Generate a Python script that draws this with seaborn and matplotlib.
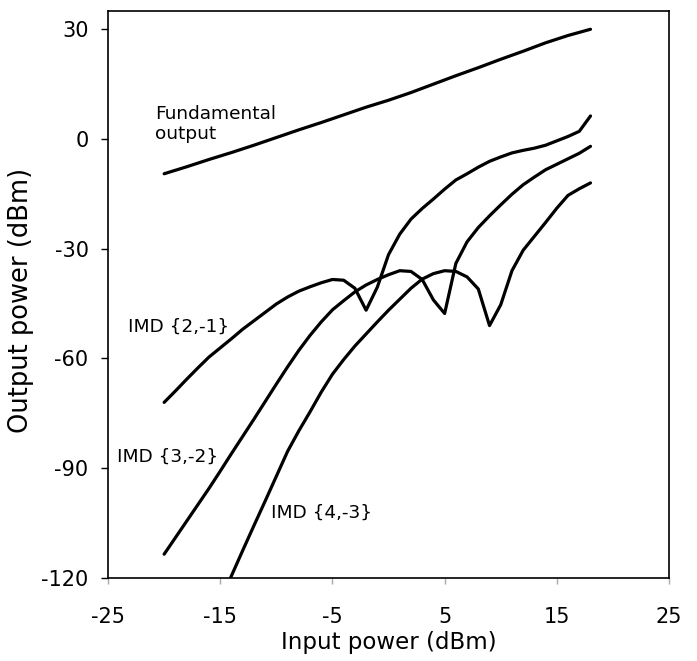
import pandas as pd
import matplotlib
matplotlib.use("Agg")
import matplotlib.pyplot as plt
import seaborn as sns

# Values (input power in dBm -> output power in dBm)
fund_x = [-20, -18, -16, -14, -12, -10, -8, -6, -4, -2, 0, 2, 4, 6, 8, 10, 12, 14, 16, 18]
fund_y = [-9.5, -7.6, -5.6, -3.7, -1.7, 0.4, 2.5, 4.5, 6.6, 8.7, 10.6, 12.7,
          15.0, 17.3, 19.5, 21.8, 24.0, 26.3, 28.3, 30.0]

imd21_x = list(range(-20, 19))
imd21_y = [-72.0, -68.9, -65.7, -62.6, -59.6, -57.1, -54.6, -52.0, -49.7, -47.4,
           -45.1, -43.2, -41.6, -40.4, -39.3, -38.4, -38.6, -40.8, -46.8, -40.5,
           -31.6, -26.0, -21.9, -19.0, -16.4, -13.7, -11.2, -9.5, -7.7, -6.1,
           -4.9, -3.8, -3.1, -2.5, -1.7, -0.5, 0.7, 2.1, 6.3]

imd32_x = list(range(-20, 19))
imd32_y = [-113.5, -109.0, -104.5, -100.0, -95.5, -90.8, -86.0, -81.3, -76.6, -71.8,
           -67.0, -62.3, -57.8, -53.7, -50.0, -46.7, -44.2, -41.8, -39.9, -38.4,
           -37.1, -36.0, -36.2, -38.4, -44.0, -47.7, -34.0, -28.1, -24.2, -21.0,
           -18.0, -15.1, -12.5, -10.4, -8.4, -6.9, -5.4, -3.9, -2.0]

imd43_x = list(range(-15, 19))
imd43_y = [-126.5, -119.4, -112.5, -105.7, -99.0, -92.2, -85.4, -79.8, -74.6, -69.2,
           -64.3, -60.3, -56.6, -53.3, -50.0, -46.8, -43.8, -40.8, -38.3, -36.8,
           -36.0, -36.2, -37.7, -41.0, -51.0, -45.3, -36.0, -30.4, -26.6, -22.8,
           -18.9, -15.4, -13.6, -12.0]

names = ["Fundamental", "IMD {2,-1}", "IMD {3,-2}", "IMD {4,-3}"]
xs = [fund_x, imd21_x, imd32_x, imd43_x]
ys = [fund_y, imd21_y, imd32_y, imd43_y]

df = pd.concat([pd.DataFrame({"pin": x, "pout": y, "series": n})
                for n, x, y in zip(names, xs, ys)])

sns.set_theme(style="white")
plt.rcParams["font.family"] = ["DejaVu Sans"]
plt.rcParams["axes.unicode_minus"] = False
plt.rcParams["text.color"] = "black"
plt.rcParams["axes.labelcolor"] = "black"

fig = plt.figure(figsize=(6.97, 6.61), dpi=100)
ax = fig.add_axes([0.155, 0.1256, 0.8049, 0.8578])

sns.lineplot(data=df, x="pin", y="pout", hue="series", units="series",
             estimator=None, palette={n: "black" for n in names},
             linewidth=2.3, legend=False, ax=ax)

ax.set_xlim(-25, 25)
ax.set_ylim(-120, 35)
ax.set_xticks(range(-25, 26, 10))
ax.set_yticks(range(-120, 31, 30))

for s in ax.spines.values():
    s.set_color("black")
    s.set_linewidth(1.2)
    s.set_visible(True)

ax.tick_params(axis="y", direction="out", length=5, width=1, color="black",
               labelcolor="black", left=True, labelsize=15, pad=9)
ax.tick_params(axis="x", direction="out", length=4, width=1, color="#aaaaaa",
               labelcolor="black", bottom=True, labelsize=15, pad=17)

ax.set_xlabel("Input power (dBm)", fontsize=16.5, labelpad=3)
ax.set_ylabel("Output power (dBm)", fontsize=18.5)
ax.yaxis.set_label_coords(-0.132, 0.49)

# curve labels
ax.text(-20.8, 9.4, "Fundamental\noutput", fontsize=13.3, ha="left", va="top",
        linespacing=1.2)
ax.text(-23.2, -51.4, "IMD {2,-1}", fontsize=13.3, ha="left", va="center")
ax.text(-24.2, -86.9, "IMD {3,-2}", fontsize=13.3, ha="left", va="center")
ax.text(-10.5, -102.2, "IMD {4,-3}", fontsize=13.3, ha="left", va="center")

fig.savefig("out.png", dpi=100)
